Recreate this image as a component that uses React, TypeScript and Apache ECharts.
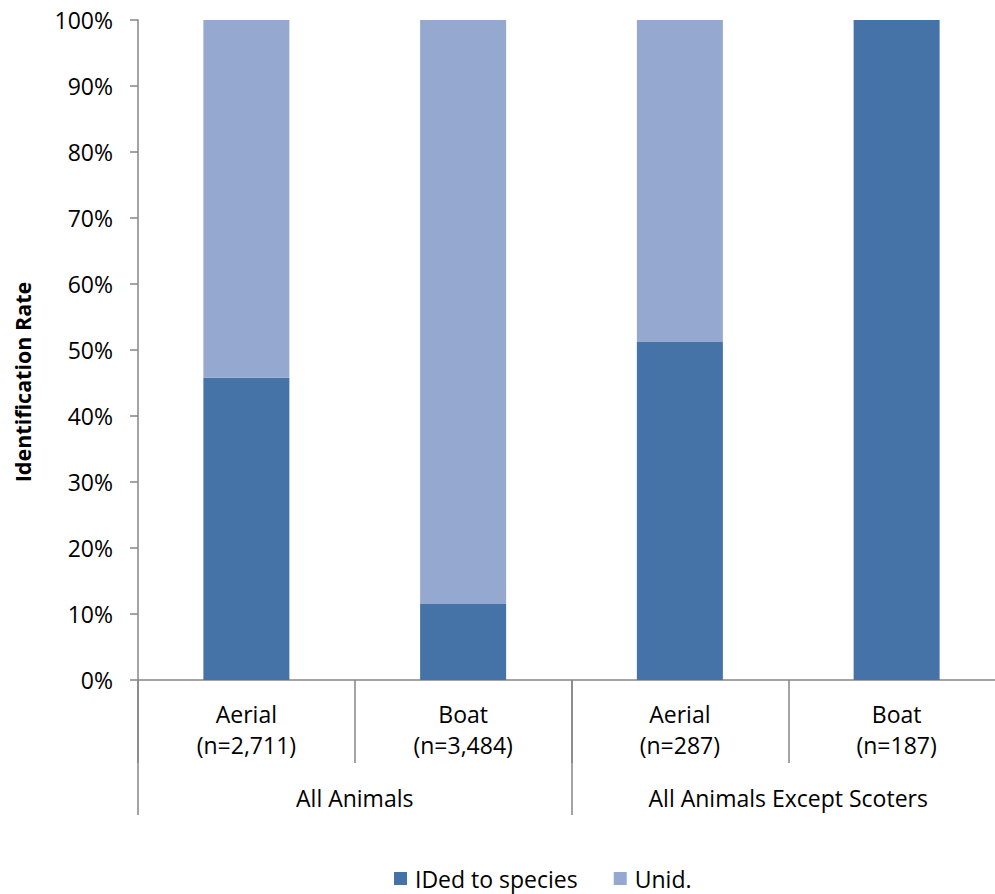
import React, { useEffect, useRef } from "react";
import * as echarts from "echarts";

const categories = ["Aerial\n(n=2,711)", "Boat\n(n=3,484)", "Aerial\n(n=287)", "Boat\n(n=187)"];
const groups = ["All Animals", "All Animals Except Scoters"];
const idedValues = [45.8, 11.5, 51.2, 100];
const unidValues = [54.2, 88.5, 48.8, 0];
const seriesNames = ["IDed to species", "Unid."];
const yTitle = "Identification Rate";

const FONT = "'Open Sans', 'Liberation Sans', sans-serif";
const AXIS_COLOR = "#868686";

export default function App() {
  const ref = useRef<HTMLDivElement>(null);
  useEffect(() => {
    if (!ref.current) return;
    const chart = echarts.init(ref.current, null, { renderer: "svg" });
    chart.setOption({
      animation: false,
      backgroundColor: "#ffffff",
      textStyle: { fontFamily: FONT },
      grid: { left: 138, top: 20, width: 867, height: 660, outerBoundsMode: "none", containLabel: false },
      legend: {
        left: 389,
        top: 862,
        icon: "rect",
        itemWidth: 13,
        itemHeight: 13,
        itemGap: 36,
        textStyle: { fontFamily: FONT, fontSize: 23, color: "#000", padding: [0, 0, 0, 3] },
        data: seriesNames,
      },
      graphic: [
        {
          type: "text",
          x: 22,
          y: 382,
          rotation: Math.PI / 2,
          style: {
            text: yTitle,
            font: `bold 21.5px ${FONT}`,
            fill: "#000",
            textAlign: "center",
            textVerticalAlign: "middle",
          },
        },
      ],
      xAxis: [
        {
          type: "category",
          data: categories,
          position: "bottom",
          axisLine: { show: true, lineStyle: { color: AXIS_COLOR, width: 1.5 } },
          axisTick: { show: true, length: 83, lineStyle: { color: AXIS_COLOR, width: 1.5 } },
          axisLabel: { fontSize: 23, color: "#000", lineHeight: 31, margin: 18, fontFamily: FONT },
        },
        {
          type: "category",
          data: groups,
          position: "bottom",
          axisLine: { show: false },
          axisTick: { show: true, length: 135, lineStyle: { color: AXIS_COLOR, width: 1.5 } },
          axisLabel: { fontSize: 23, color: "#000", lineHeight: 31, margin: 102, fontFamily: FONT },
        },
      ],
      yAxis: {
        type: "value",
        min: 0,
        max: 100,
        interval: 10,
        axisLine: { show: true, lineStyle: { color: AXIS_COLOR, width: 1.5 } },
        axisTick: { show: true, length: 8, lineStyle: { color: AXIS_COLOR, width: 1.5 } },
        splitLine: { show: false },
        axisLabel: { formatter: "{value}%", fontSize: 23, color: "#000", margin: 25, fontFamily: FONT },
      },
      series: [
        {
          name: seriesNames[0],
          type: "bar",
          stack: "total",
          xAxisIndex: 0,
          barWidth: 86,
          itemStyle: { color: "#4572A7" },
          data: idedValues,
        },
        {
          name: seriesNames[1],
          type: "bar",
          stack: "total",
          xAxisIndex: 0,
          barWidth: 86,
          itemStyle: { color: "#95A9D0" },
          data: unidValues,
        },
      ],
    });
    return () => chart.dispose();
  }, []);
  return (
    <div
      ref={ref}
      style={{ position: "fixed", left: 0, top: 0, width: 995, height: 894, background: "#fff" }}
    />
  );
}
